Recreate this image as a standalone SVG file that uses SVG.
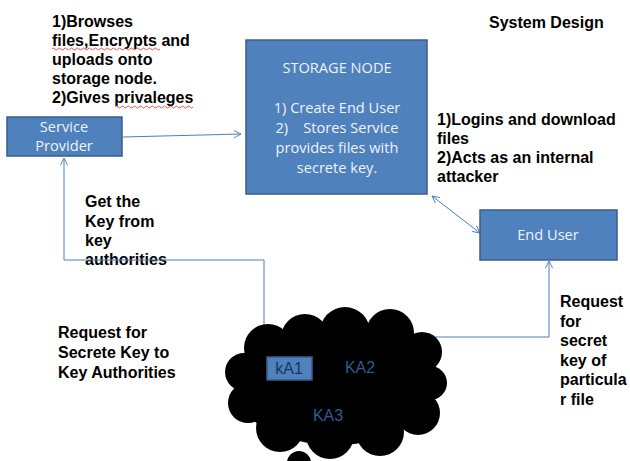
<svg xmlns="http://www.w3.org/2000/svg" width="630" height="461" viewBox="0 0 630 461">
<style>
.box{fill:#4f81bd;stroke:#385d8a;stroke-width:1.5}
.bt{font-family:"Open Sans","Liberation Sans",sans-serif;font-size:14.6px;fill:#eef3fa;text-anchor:middle}
.lbl{font-family:"Liberation Sans",Arial,sans-serif;font-size:16px;font-weight:bold;fill:#000}
.con{fill:none;stroke:#4a7ebb;stroke-width:1}
.ka{font-family:"Liberation Sans",Arial,sans-serif;font-size:16px;fill:#2d5b93;text-anchor:middle}
.sq{fill:none;stroke:#e03030;stroke-width:0.8}
</style>
<defs>
<marker id="ah" viewBox="0 0 10 10" refX="9" refY="5" markerWidth="9" markerHeight="9" orient="auto-start-reverse" markerUnits="userSpaceOnUse">
<path d="M1,1 L9,5 L1,9" fill="none" stroke="#4a7ebb" stroke-width="1"/>
</marker>
</defs>
<rect width="630" height="461" fill="#fff"/>

<g id="labels">
<text class="lbl" x="489" y="28">System Design</text>
<text class="lbl" x="52" y="27">1)Browses</text>
<text class="lbl" x="52" y="46">files,Encrypts and</text>
<text class="lbl" x="52" y="65">uploads onto</text>
<text class="lbl" x="52" y="84">storage node.</text>
<text class="lbl" x="52" y="103">2)Gives privaleges</text>
<path class="sq" d="M52,49 q1.5,-2 3,0 t3,0 t3,0 t3,0 t3,0 t3,0 t3,0 t3,0 t3,0 t3,0 t3,0 t3,0 t3,0 t3,0 t3,0 t3,0 t3,0 t3,0 t3,0 t3,0 t3,0 t3,0 t3,0 t3,0 t3,0 t3,0 t3,0 t3,0 t3,0 t3,0 t3,0 t3,0 t3,0 t3,0 t3,0 t3,0"/>
<path class="sq" d="M115,107 q1.5,-2 3,0 t3,0 t3,0 t3,0 t3,0 t3,0 t3,0 t3,0 t3,0 t3,0 t3,0 t3,0 t3,0 t3,0 t3,0 t3,0 t3,0 t3,0 t3,0 t3,0 t3,0 t3,0 t3,0 t3,0 t3,0 t3,0"/>
<text class="lbl" x="437" y="125">1)Logins and download</text>
<text class="lbl" x="437" y="144">files</text>
<text class="lbl" x="437" y="163">2)Acts as an internal</text>
<text class="lbl" x="437" y="182">attacker</text>
<text class="lbl" x="85" y="207">Get the</text>
<text class="lbl" x="85" y="227">Key from</text>
<text class="lbl" x="85" y="246">key</text>
<text class="lbl" x="85" y="265">authorities</text>
<text class="lbl" x="58" y="338">Request for</text>
<text class="lbl" x="58" y="358">Secrete Key to</text>
<text class="lbl" x="58" y="378">Key Authorities</text>
<text class="lbl" x="560" y="307">Request</text>
<text class="lbl" x="560" y="327">for</text>
<text class="lbl" x="560" y="346">secret</text>
<text class="lbl" x="560" y="366">key of</text>
<text class="lbl" x="560" y="385">particula</text>
<text class="lbl" x="560" y="405">r file</text>
</g>

<g id="connectors">
<line class="con" x1="123" y1="137" x2="241" y2="134" marker-end="url(#ah)"/>
<line class="con" x1="432" y1="196" x2="480" y2="233" marker-start="url(#ah)" marker-end="url(#ah)"/>
<polyline class="con" points="64,158 64,260 264,260 264,363" marker-start="url(#ah)" marker-end="url(#ah)"/>
<polyline class="con" points="423,337 549,337 549,261" marker-start="url(#ah)" marker-end="url(#ah)"/>
</g>

<g id="service-provider">
<rect class="box" x="7" y="117" width="115" height="39"/>
<text class="bt" x="64" y="132">Service</text>
<text class="bt" x="64" y="151">Provider</text>
</g>

<g id="storage-node">
<rect class="box" x="246" y="40" width="181" height="154"/>
<text class="bt" x="337" y="73">STORAGE NODE</text>
<text class="bt" x="337" y="113">1) Create End User</text>
<text class="bt" x="337" y="133" xml:space="preserve">2)    Stores Service</text>
<text class="bt" x="337" y="153">provides files with</text>
<text class="bt" x="337" y="173">secrete key.</text>
</g>

<g id="end-user">
<rect class="box" x="480" y="210" width="137" height="50"/>
<text class="bt" x="548" y="240">End User</text>
</g>

<g id="key-authorities">
<g fill="#000">
<ellipse cx="335" cy="387" rx="100" ry="58"/>
<circle cx="268" cy="348" r="24"/>
<circle cx="305" cy="338" r="24"/>
<circle cx="345" cy="332" r="25"/>
<circle cx="390" cy="333" r="24"/>
<circle cx="422" cy="352" r="20"/>
<circle cx="430" cy="383" r="17"/>
<circle cx="418" cy="413" r="22"/>
<circle cx="380" cy="432" r="24"/>
<circle cx="330" cy="435" r="24"/>
<circle cx="280" cy="428" r="24"/>
<circle cx="248" cy="403" r="20"/>
<circle cx="244" cy="372" r="19"/>
<circle cx="299" cy="463" r="12"/>
</g>
<rect class="box" x="267" y="357" width="45" height="23"/>
<text class="ka" x="289" y="374" style="fill:#16365c">kA1</text>
<text class="ka" x="360" y="373">KA2</text>
<text class="ka" x="328" y="421">KA3</text>
</g>
</svg>
